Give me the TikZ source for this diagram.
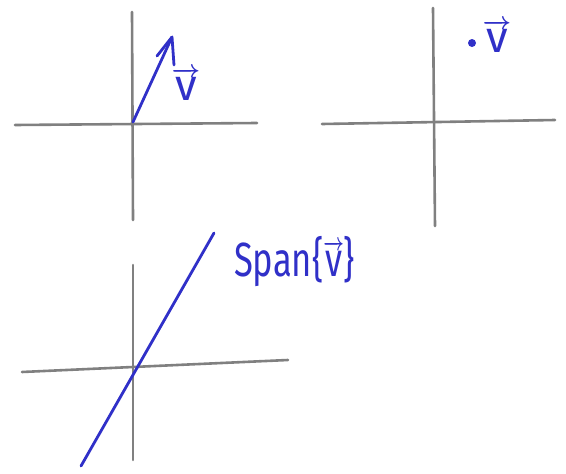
\documentclass[tikz,border=0pt]{standalone}
\usepackage{amsmath}
\usepackage{fontspec}
\setmainfont{Fira Sans}
\definecolor{pen}{RGB}{48,48,200}
\definecolor{axisgray}{RGB}{128,128,128}
\newcommand{\penvec}{\ensuremath{\boldsymbol{\overrightarrow{\text{v}}}}}
\tikzset{
  axis/.style={draw=axisgray, line width=2.6pt, line cap=round},
  vecline/.style={draw=pen, line width=2.8pt, line cap=round, line join=round},
  lbl/.style={text=pen, font=\fontsize{44}{50}\selectfont\boldmath, inner sep=0pt},
  spanlbl/.style={text=pen, font=\fontsize{48}{52}\selectfont\boldmath, inner sep=0pt, xscale=0.72}
}
\begin{document}
\begin{tikzpicture}[x=1pt,y=-1pt]
\useasboundingbox (0,0) rectangle (566,474);
% panel 1
\coordinate (a1t) at (132,12); \coordinate (a1b) at (133,220);
\coordinate (a1l) at (15,125); \coordinate (a1r) at (257,123);
\draw[axis] (a1t) -- (a1b);
\draw[axis] (a1l) -- (a1r);
\coordinate (o1) at (133,122);
\coordinate (tip1) at (172,37);
\coordinate (b1l) at (157,56);
\coordinate (b1r) at (174,65);
\draw[vecline] (o1) -- (tip1) -- (b1r);
\draw[vecline] (b1l) -- (tip1);
\node[lbl] (v1) at (186,84) {\penvec};
% panel 2
\coordinate (a2t) at (433,8); \coordinate (a2b) at (435,226);
\coordinate (a2l) at (322,124); \coordinate (a2r) at (555,120);
\draw[axis] (a2t) -- (a2b);
\draw[axis] (a2l) -- (a2r);
\node[circle, fill=pen, inner sep=0pt, minimum size=8pt] (dot) at (472,43) {};
\node[lbl] (v2) at (497,36) {\penvec};
% panel 3
\coordinate (a3t) at (133,265); \coordinate (a3b) at (133,460);
\coordinate (a3l) at (22,372); \coordinate (a3r) at (288,360);
\draw[axis] (a3t) -- (a3b);
\draw[axis] (a3l) -- (a3r);
\coordinate (s1) at (81,466); \coordinate (s2) at (214,233);
\draw[vecline] (s1) -- (s2);
\node[spanlbl, anchor=base west] (span) at (234,276) {Span\{\penvec\}};
\end{tikzpicture}
\end{document}
